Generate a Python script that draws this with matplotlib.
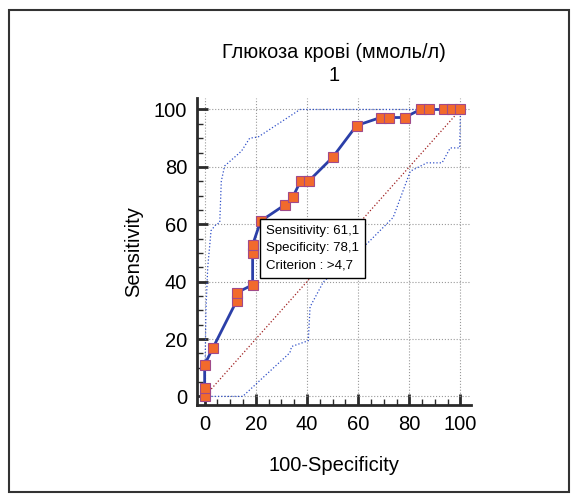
import matplotlib.pyplot as plt
from matplotlib.patches import Rectangle
from matplotlib.ticker import MultipleLocator

plt.rcParams['font.family'] = ['Liberation Sans', 'DejaVu Sans']

# ROC curve (100-specificity, sensitivity)
roc_x = [0, 0, 0, 3.125, 12.5, 12.5, 18.75, 18.75, 18.75, 21.875, 31.25, 34.375,
         37.5, 40.625, 50, 59.375, 68.75, 71.875, 78.125, 84.375, 87.5, 93.75, 96.875, 100]
roc_y = [0, 2.78, 11.1, 16.7, 33.3, 36.1, 38.9, 50, 52.8, 61.1, 66.7, 69.4,
         75, 75, 83.3, 94.4, 97.2, 97.2, 97.2, 100, 100, 100, 100, 100]

# confidence bounds
upper_x = [0, 0.5, 1.2, 2.5, 4.5, 5.9, 6.5, 7.8, 14.4, 17.6, 20.9, 37.3, 100]
upper_y = [0, 30, 45, 57.8, 60, 60.5, 75, 80.3, 85.5, 90, 90.4, 100, 100]
lower_x = [0, 14.9, 20.3, 33.3, 34, 40.5, 41.2, 46.4, 64, 73.7, 80.4, 86.9, 92.8, 96, 99.7, 100]
lower_y = [0, 0, 4.5, 15.2, 17.4, 19.4, 31.2, 39.9, 53.7, 62.4, 78.5, 81.4, 81.4, 86.6, 86.6, 100]

title = "Глюкоза крові (ммоль/л)\n1"
tip_lines = ["Sensitivity: 61,1", "Specificity: 78,1", "Criterion : >4,7"]

fig = plt.figure(figsize=(5.77, 5.0), dpi=100)
ax = fig.add_axes([0.3414, 0.19, 0.4744, 0.614])

ax.plot([0, 100], [0, 100], ls=':', color='#a02020', lw=0.9)
ax.plot(upper_x, upper_y, ls=':', color='#3050c8', lw=0.9)
ax.plot(lower_x, lower_y, ls=':', color='#3050c8', lw=0.9)
ax.plot(roc_x, roc_y, color='#2b3fa8', lw=2, marker='s', markersize=6.5,
        markerfacecolor='#f26a2c', markeredgecolor='#a04a8a', markeredgewidth=0.8,
        zorder=5, clip_on=False)

ax.set_xlim(-3, 104)
ax.set_ylim(-3, 104)
ax.xaxis.set_major_locator(MultipleLocator(20))
ax.yaxis.set_major_locator(MultipleLocator(20))
ax.xaxis.set_minor_locator(MultipleLocator(5))
ax.yaxis.set_minor_locator(MultipleLocator(5))
ax.grid(True, which='major', ls=':', color='#999999', lw=0.8)

for s in ['top', 'right']:
    ax.spines[s].set_visible(False)
for s in ['left', 'bottom']:
    ax.spines[s].set_linewidth(2)
    ax.spines[s].set_color('#2a2a2a')
ax.tick_params(which='major', direction='in', length=8, width=2, color='#2a2a2a',
               labelsize=14.5, pad=7)
ax.tick_params(which='minor', direction='in', length=4, width=1, color='#2a2a2a')

ax.set_xlabel("100-Specificity", fontsize=14.5, labelpad=16)
ax.set_ylabel("Sensitivity", fontsize=14.5, labelpad=8)
ax.set_title(title, fontsize=14.3, pad=12, linespacing=1.3)

ax.text(24, 59.8, "\n".join(tip_lines), fontsize=9.5, va='top', ha='left',
        linespacing=1.6, zorder=6,
        bbox=dict(boxstyle='square,pad=0.45', fc='white', ec='black', lw=1))

fig.patches.append(Rectangle((9 / 577, 8 / 500), 560 / 577, 482 / 500,
                             transform=fig.transFigure, fill=False,
                             ec='#333333', lw=1.5))

fig.savefig("out.png", dpi=100)
